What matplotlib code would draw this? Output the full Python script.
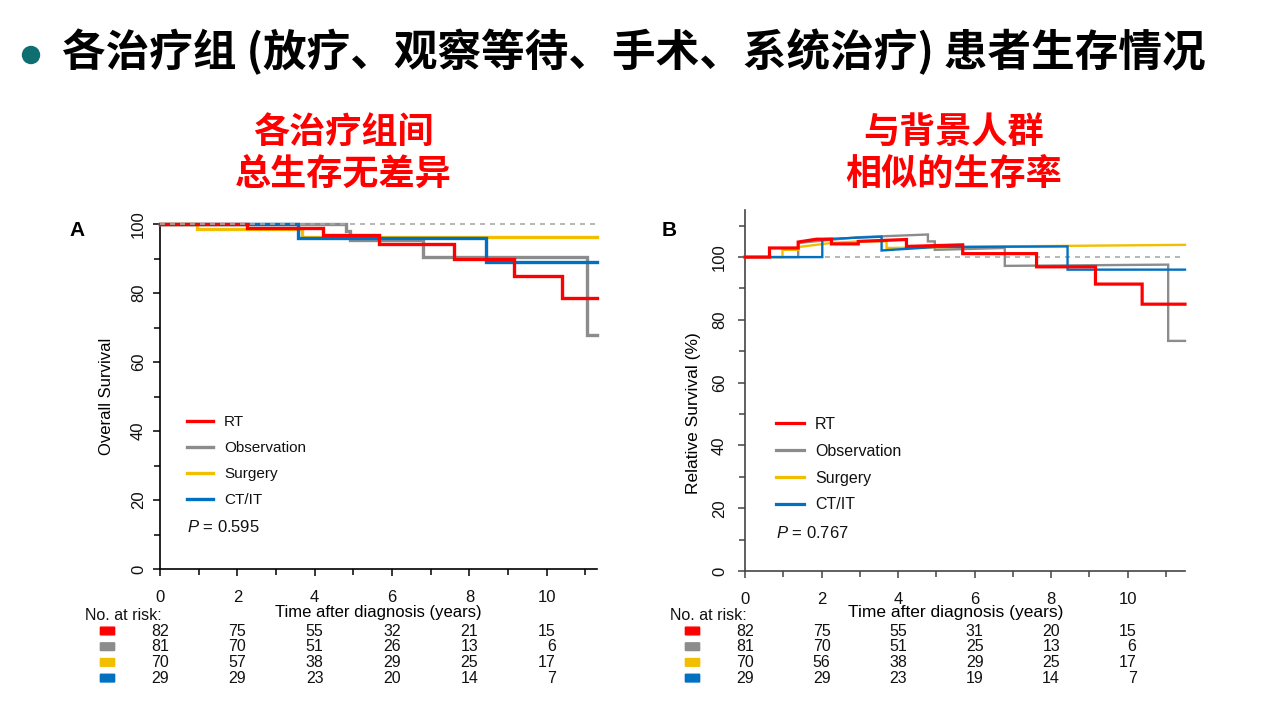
import matplotlib
matplotlib.use('Agg')
import matplotlib.pyplot as plt
import matplotlib.transforms as mtransforms
from matplotlib.patches import FancyBboxPatch, Ellipse
from matplotlib.lines import Line2D
from matplotlib.ticker import MultipleLocator

plt.rcParams['font.family'] = ['Liberation Sans', 'DejaVu Sans']
plt.rcParams['mathtext.fontset'] = 'custom'
plt.rcParams['mathtext.it'] = 'Liberation Sans:italic'
plt.rcParams['mathtext.rm'] = 'Liberation Sans'
CJK = ['Noto Sans CJK SC', 'DejaVu Sans']

# ---------------- data ----------------
groups = ['RT', 'Observation', 'Surgery', 'CT/IT']
colors = ['#FF0000', '#8C8C8C', '#F2BF00', '#0070C0']

# Panel A: overall survival (Kaplan-Meier steps: event time, survival after it)
os_rt_t = [0, 2.24, 4.22, 5.67, 7.60, 9.14, 10.39]
os_rt_v = [100, 98.9, 96.8, 94.2, 90.0, 84.9, 78.6]
os_obs_t = [0, 4.81, 4.91, 6.81, 11.03]
os_obs_v = [100, 98.0, 95.4, 90.5, 67.8]
os_sur_t = [0, 0.95, 3.66]
os_sur_v = [100, 98.5, 96.1]
os_ct_t = [0, 3.56, 8.43]
os_ct_v = [100, 95.8, 89.1]
os_end = 11.29

# Panel B: relative survival (%) traced as a polyline
rs_rt_t = [0, 0.64, 0.64, 1.39, 1.39, 1.87, 2.26, 2.26, 2.96, 2.96, 4.22, 4.22,
           5.69, 5.69, 7.62, 7.62, 9.16, 9.16, 10.38, 10.38, 11.5]
rs_rt_v = [100, 100, 102.9, 102.9, 104.8, 105.7, 105.7, 104.2, 104.2, 105.0, 105.6, 103.4,
           103.9, 101.1, 101.1, 96.9, 96.9, 91.4, 91.4, 85.0, 85.0]
rs_obs_t = [0, 1.39, 1.39, 2.92, 4.78, 4.78, 4.96, 4.96, 6.79, 6.79, 11.06, 11.06, 11.5]
rs_obs_v = [100, 100, 104.5, 106.3, 107.2, 105.0, 105.0, 102.3, 102.9, 97.2, 97.6, 73.3, 73.3]
rs_sur_t = [0, 0.98, 0.98, 1.39, 1.39, 2.26, 3.0, 3.70, 3.70, 6.7, 11.5]
rs_sur_v = [100, 100, 102.3, 102.3, 103.2, 104.5, 105.0, 105.0, 102.9, 103.4, 103.9]
rs_ct_t = [0, 2.02, 2.02, 3.57, 3.57, 4.96, 8.43, 8.43, 11.5]
rs_ct_v = [100, 100, 105.7, 106.5, 102.1, 103.2, 103.4, 96.0, 96.0]
rs_end = 11.5

risk_times = [0, 2, 4, 6, 8, 10]
risk_a_rt = [82, 75, 55, 32, 21, 15]
risk_a_obs = [81, 70, 51, 26, 13, 6]
risk_a_sur = [70, 57, 38, 29, 25, 17]
risk_a_ct = [29, 29, 23, 20, 14, 7]
risk_b_rt = [82, 75, 55, 31, 20, 15]
risk_b_obs = [81, 70, 51, 25, 13, 6]
risk_b_sur = [70, 56, 38, 29, 25, 17]
risk_b_ct = [29, 29, 23, 19, 14, 7]

p_a = 'P = 0.595'
p_b = 'P = 0.767'

title = '各治疗组 (放疗、观察等待、手术、系统治疗) 患者生存情况'
note_a = ['各治疗组间', '总生存无差异']
note_b = ['与背景人群', '相似的生存率']

# ---------------- figure ----------------
W, H = 1270, 711
fig = plt.figure(figsize=(W / 100, H / 100), dpi=100)
fig.patch.set_facecolor('white')


def fx(px):
    return px / W


def fy(py):
    return 1 - py / H


# title + bullet
fig.patches.append(Ellipse((fx(31), fy(55)), 17 / W, 17 / H, transform=fig.transFigure,
                           color='#0E6E72', zorder=5))
fig.text(fx(62), fy(52), title, fontsize=31.4, fontweight='bold', family=CJK,
         va='center', ha='left', color='black')
for i, s in enumerate(note_a):
    fig.text(fx(343), fy(132 + 42 * i), s, fontsize=26, fontweight='bold', family=CJK,
             color='#FF0000', ha='center', va='center')
for i, s in enumerate(note_b):
    fig.text(fx(954), fy(132 + 42 * i), s, fontsize=26, fontweight='bold', family=CJK,
             color='#FF0000', ha='center', va='center')


def style_axis(ax, ylim_top, spine_color, fs, ypad):
    for side in ['top', 'right']:
        ax.spines[side].set_visible(False)
    for side in ['left', 'bottom']:
        ax.spines[side].set_color(spine_color)
        ax.spines[side].set_linewidth(1.2)
    ax.set_ylim(0, ylim_top)
    ax.set_yticks([0, 20, 40, 60, 80, 100])
    ax.yaxis.set_minor_locator(MultipleLocator(10))
    ax.set_xticks([0, 2, 4, 6, 8, 10])
    ax.xaxis.set_minor_locator(MultipleLocator(1))
    ax.tick_params(which='both', direction='out', color=spine_color, width=1.1)
    ax.tick_params(which='major', length=5, labelsize=fs, labelcolor='#111111')
    ax.tick_params(which='minor', length=4)
    ax.tick_params(axis='x', pad=10)
    ax.tick_params(axis='y', labelrotation=90, pad=ypad)
    for lab in ax.get_yticklabels():
        lab.set_va('center')


def risk_table(ax, xshift, rows, fs):
    tr = mtransforms.blended_transform_factory(ax.transData, fig.transFigure)
    x0 = ax.get_position().x0 * W
    fig.text(fx(x0 - 75), fy(615), 'No. at risk:', fontsize=11.5, ha='left',
             va='center', color='#111111')
    for r, (vals, col) in enumerate(zip(rows, colors)):
        py = 631 + 15.7 * r
        fig.patches.append(FancyBboxPatch((fx(x0 - 59), fy(py + 3.5)), 13 / W, 7 / H,
                                          boxstyle='round,pad=0.0005', transform=fig.transFigure,
                                          facecolor=col, edgecolor=col))
        for t, v in zip(risk_times, vals):
            ax.text(t + xshift, fy(py), str(v), transform=tr, ha='right', va='center',
                    fontsize=fs, color='#111111', clip_on=False)


def legend(ax, anchor, fs, lw, spacing):
    handles = [Line2D([], [], color=c, lw=lw) for c in colors]
    leg = ax.legend(handles, groups, loc='upper left', bbox_to_anchor=anchor, frameon=False,
                    fontsize=fs, handlelength=1.75, handletextpad=0.7, labelspacing=spacing,
                    borderpad=0, borderaxespad=0)
    for t in leg.get_texts():
        t.set_color('#111111')


# ---------------- panel A ----------------
axA = fig.add_axes([fx(160), fy(569), (596.7 - 160) / W, 345 / H])
style_axis(axA, 100, 'black', 12, 5)
axA.set_xlim(0, os_end)
series_a = [(os_rt_t, os_rt_v), (os_obs_t, os_obs_v), (os_sur_t, os_sur_v), (os_ct_t, os_ct_v)]
zorders = [6, 3, 4, 5]
for (t, v), c, z in zip(series_a, colors, zorders):
    axA.step(t + [os_end], v + [v[-1]], where='post', color=c, lw=2.4, zorder=z,
             clip_on=False, solid_joinstyle='miter')
axA.plot([0, os_end], [100, 100], color='#AAAAAA', lw=1.2, dashes=(3, 3), zorder=7,
         clip_on=False)
axA.set_ylabel('Overall Survival', fontsize=12)
axA.yaxis.set_label_coords((114 - 160) / 436.7, 0.5)
axA.set_xlabel('Time after diagnosis (years)', fontsize=12)
axA.xaxis.set_label_coords(0.5, (569 - 605) / 345)
legend(axA, ((186.7 - 160) / 436.7, (569 - 415) / 345), 11, 2.4, 0.79)
axA.text((187 - 160) / 436.7, (569 - 526.7) / 345, r'$\it{P}$' + p_a[1:], transform=axA.transAxes,
         fontsize=12, va='center', ha='left', color='#111111')
risk_table(axA, 0.23, [risk_a_rt, risk_a_obs, risk_a_sur, risk_a_ct], 11.5)
fig.text(fx(77), fy(230), 'A', fontsize=15, fontweight='bold', ha='center', va='center')

# ---------------- panel B ----------------
axB = fig.add_axes([fx(745), fy(571), 440 / W, 361 / H])
style_axis(axB, 115, '#444444', 12, 8)
axB.set_xlim(0, rs_end)
series_b = [(rs_rt_t, rs_rt_v), (rs_obs_t, rs_obs_v), (rs_sur_t, rs_sur_v), (rs_ct_t, rs_ct_v)]
lws = [2.3, 1.7, 1.7, 1.7]
for (t, v), c, z, lw in zip(series_b, colors, zorders, lws):
    axB.plot(t, v, color=c, lw=lw, zorder=z, clip_on=False, solid_joinstyle='miter')
axB.plot([0, rs_end], [100, 100], color='#AAAAAA', lw=1.2, dashes=(3, 3), zorder=2,
         clip_on=False)
axB.set_ylabel('Relative Survival (%)', fontsize=12.5)
axB.yaxis.set_label_coords((701 - 745) / 440, (571 - 413) / 361)
axB.set_xlabel('Time after diagnosis (years)', fontsize=12.5)
axB.xaxis.set_label_coords((955.8 - 745) / 440, (571 - 605) / 361)
legend(axB, ((776 - 745) / 440, (571 - 417) / 361), 11.5, 2.3, 0.74)
axB.text((776 - 745) / 440, (571 - 533.3) / 361, r'$\it{P}$' + p_b[1:], transform=axB.transAxes,
         fontsize=12, va='center', ha='left', color='#111111')
risk_table(axB, 0.235, [risk_b_rt, risk_b_obs, risk_b_sur, risk_b_ct], 11.5)
fig.text(fx(669), fy(230), 'B', fontsize=15, fontweight='bold', ha='center', va='center')

fig.savefig('out.png', dpi=100, facecolor='white')
